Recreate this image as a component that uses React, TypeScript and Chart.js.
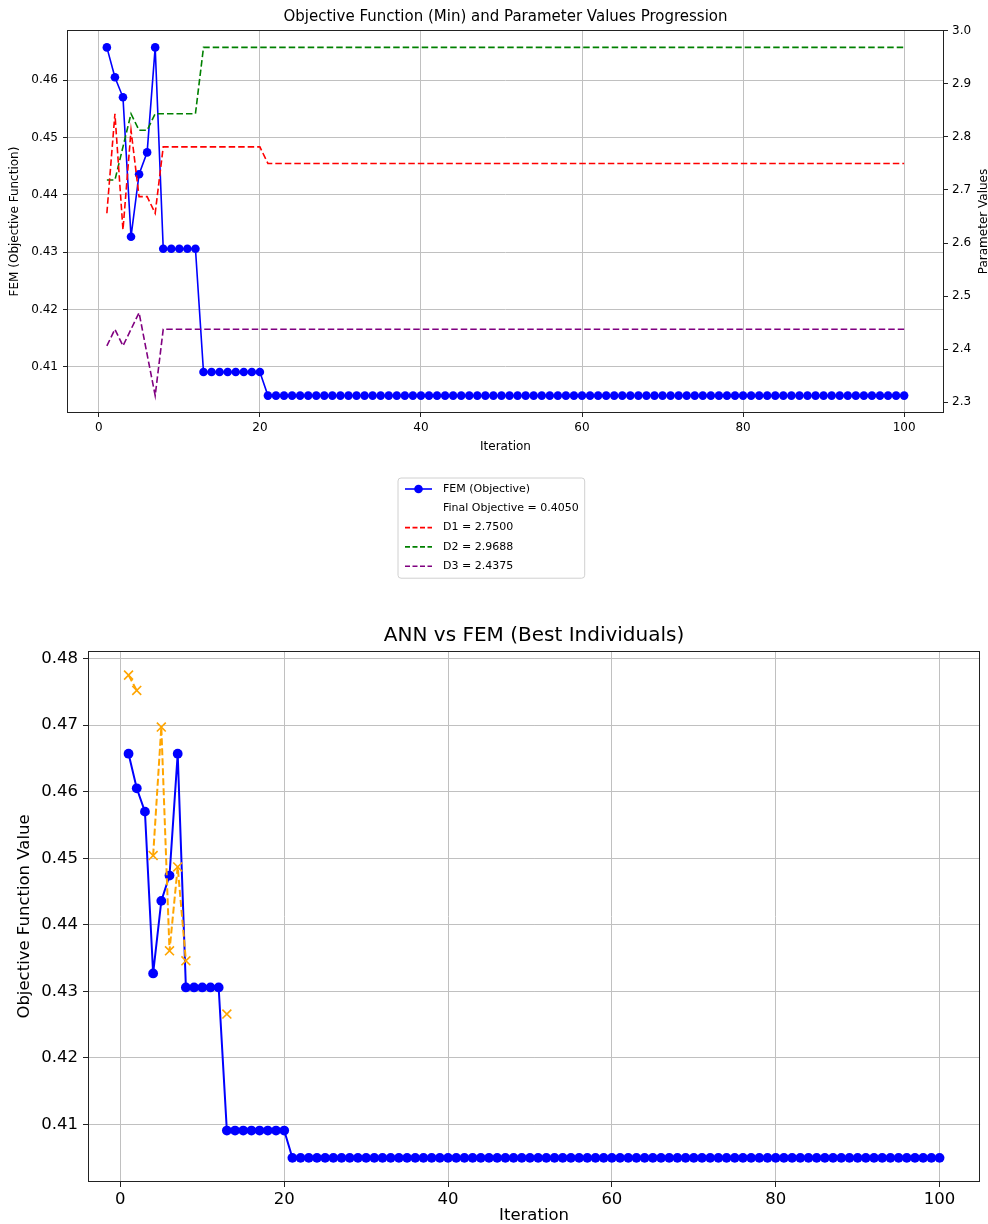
import React, { useEffect, useRef } from "react";
import { Chart, registerables } from "chart.js";

Chart.register(...registerables);

const FONT = "'DejaVu Sans', 'Liberation Sans', sans-serif";

// ---------- data ----------
const iterations = Array.from({ length: 100 }, (_, i) => i + 1);

const femValues = [
  0.4657, 0.4605, 0.457, 0.4327, 0.4436, 0.4474, 0.4657, 0.4306, 0.4306, 0.4306,
  0.4306, 0.4306, 0.4091, 0.4091, 0.4091, 0.4091, 0.4091, 0.4091, 0.4091, 0.4091,
  0.405, 0.405, 0.405, 0.405, 0.405, 0.405, 0.405, 0.405, 0.405, 0.405,
  0.405, 0.405, 0.405, 0.405, 0.405, 0.405, 0.405, 0.405, 0.405, 0.405,
  0.405, 0.405, 0.405, 0.405, 0.405, 0.405, 0.405, 0.405, 0.405, 0.405,
  0.405, 0.405, 0.405, 0.405, 0.405, 0.405, 0.405, 0.405, 0.405, 0.405,
  0.405, 0.405, 0.405, 0.405, 0.405, 0.405, 0.405, 0.405, 0.405, 0.405,
  0.405, 0.405, 0.405, 0.405, 0.405, 0.405, 0.405, 0.405, 0.405, 0.405,
  0.405, 0.405, 0.405, 0.405, 0.405, 0.405, 0.405, 0.405, 0.405, 0.405,
  0.405, 0.405, 0.405, 0.405, 0.405, 0.405, 0.405, 0.405, 0.405, 0.405,
];

const annValues: (number | null)[] = [
  0.4775, 0.4752, null, 0.4504, 0.4697, 0.4361, 0.4487, 0.4346, null, null,
  null, null, 0.4266, null, null, null, null, null, null, null,
  null, null, null, null, null, null, null, null, null, null,
  null, null, null, null, null, null, null, null, null, null,
  null, null, null, null, null, null, null, null, null, null,
  null, null, null, null, null, null, null, null, null, null,
  null, null, null, null, null, null, null, null, null, null,
  null, null, null, null, null, null, null, null, null, null,
  null, null, null, null, null, null, null, null, null, null,
  null, null, null, null, null, null, null, null, null, null,
];

const d1Values = [
  2.65625, 2.84375, 2.625, 2.8125, 2.6875, 2.6875, 2.65625, 2.78125, 2.78125, 2.78125,
  2.78125, 2.78125, 2.78125, 2.78125, 2.78125, 2.78125, 2.78125, 2.78125, 2.78125, 2.78125,
  2.75, 2.75, 2.75, 2.75, 2.75, 2.75, 2.75, 2.75, 2.75, 2.75,
  2.75, 2.75, 2.75, 2.75, 2.75, 2.75, 2.75, 2.75, 2.75, 2.75,
  2.75, 2.75, 2.75, 2.75, 2.75, 2.75, 2.75, 2.75, 2.75, 2.75,
  2.75, 2.75, 2.75, 2.75, 2.75, 2.75, 2.75, 2.75, 2.75, 2.75,
  2.75, 2.75, 2.75, 2.75, 2.75, 2.75, 2.75, 2.75, 2.75, 2.75,
  2.75, 2.75, 2.75, 2.75, 2.75, 2.75, 2.75, 2.75, 2.75, 2.75,
  2.75, 2.75, 2.75, 2.75, 2.75, 2.75, 2.75, 2.75, 2.75, 2.75,
  2.75, 2.75, 2.75, 2.75, 2.75, 2.75, 2.75, 2.75, 2.75, 2.75,
];

const d2Values = [
  2.71875, 2.71875, 2.78125, 2.84375, 2.8125, 2.8125, 2.84375, 2.84375, 2.84375, 2.84375,
  2.84375, 2.84375, 2.96875, 2.96875, 2.96875, 2.96875, 2.96875, 2.96875, 2.96875, 2.96875,
  2.96875, 2.96875, 2.96875, 2.96875, 2.96875, 2.96875, 2.96875, 2.96875, 2.96875, 2.96875,
  2.96875, 2.96875, 2.96875, 2.96875, 2.96875, 2.96875, 2.96875, 2.96875, 2.96875, 2.96875,
  2.96875, 2.96875, 2.96875, 2.96875, 2.96875, 2.96875, 2.96875, 2.96875, 2.96875, 2.96875,
  2.96875, 2.96875, 2.96875, 2.96875, 2.96875, 2.96875, 2.96875, 2.96875, 2.96875, 2.96875,
  2.96875, 2.96875, 2.96875, 2.96875, 2.96875, 2.96875, 2.96875, 2.96875, 2.96875, 2.96875,
  2.96875, 2.96875, 2.96875, 2.96875, 2.96875, 2.96875, 2.96875, 2.96875, 2.96875, 2.96875,
  2.96875, 2.96875, 2.96875, 2.96875, 2.96875, 2.96875, 2.96875, 2.96875, 2.96875, 2.96875,
  2.96875, 2.96875, 2.96875, 2.96875, 2.96875, 2.96875, 2.96875, 2.96875, 2.96875, 2.96875,
];

const d3Values = [
  2.40625, 2.4375, 2.40625, 2.4375, 2.46875, 2.39, 2.3125, 2.4375, 2.4375, 2.4375,
  2.4375, 2.4375, 2.4375, 2.4375, 2.4375, 2.4375, 2.4375, 2.4375, 2.4375, 2.4375,
  2.4375, 2.4375, 2.4375, 2.4375, 2.4375, 2.4375, 2.4375, 2.4375, 2.4375, 2.4375,
  2.4375, 2.4375, 2.4375, 2.4375, 2.4375, 2.4375, 2.4375, 2.4375, 2.4375, 2.4375,
  2.4375, 2.4375, 2.4375, 2.4375, 2.4375, 2.4375, 2.4375, 2.4375, 2.4375, 2.4375,
  2.4375, 2.4375, 2.4375, 2.4375, 2.4375, 2.4375, 2.4375, 2.4375, 2.4375, 2.4375,
  2.4375, 2.4375, 2.4375, 2.4375, 2.4375, 2.4375, 2.4375, 2.4375, 2.4375, 2.4375,
  2.4375, 2.4375, 2.4375, 2.4375, 2.4375, 2.4375, 2.4375, 2.4375, 2.4375, 2.4375,
  2.4375, 2.4375, 2.4375, 2.4375, 2.4375, 2.4375, 2.4375, 2.4375, 2.4375, 2.4375,
  2.4375, 2.4375, 2.4375, 2.4375, 2.4375, 2.4375, 2.4375, 2.4375, 2.4375, 2.4375,
];

const xTickValues = [0, 20, 40, 60, 80, 100];
const topLeftTickValues = [0.41, 0.42, 0.43, 0.44, 0.45, 0.46];
const topRightTickValues = [2.3, 2.4, 2.5, 2.6, 2.7, 2.8, 2.9, 3.0];
const bottomTickValues = [0.41, 0.42, 0.43, 0.44, 0.45, 0.46, 0.47, 0.48];

const topTitle = "Objective Function (Min) and Parameter Values Progression";
const bottomTitle = "ANN vs FEM (Best Individuals)";
const xLabel = "Iteration";
const topYLabel = "FEM (Objective Function)";
const topY2Label = "Parameter Values";
const bottomYLabel = "Objective Function Value";

const FEM_COLOR = "#0000ff";
const ANN_COLOR = "#ffa500";
const D1_COLOR = "#ff0000";
const D2_COLOR = "#008000";
const D3_COLOR = "#800080";

// ---------- helpers ----------
function paddedRange(series: (number | null)[][]) {
  let min = Infinity;
  let max = -Infinity;
  series.forEach((arr) =>
    arr.forEach((v) => {
      if (v != null) {
        if (v < min) min = v;
        if (v > max) max = v;
      }
    })
  );
  const m = (max - min) * 0.05;
  return { min: min - m, max: max + m };
}

const toPoints = (vals: (number | null)[]) =>
  iterations.map((x, i) => ({ x, y: vals[i] }));

function drawText(
  ctx: CanvasRenderingContext2D,
  str: string,
  x: number,
  y: number,
  size: number,
  rotate = 0,
  align: CanvasTextAlign = "center"
) {
  ctx.save();
  ctx.font = `${size}px ${FONT}`;
  ctx.fillStyle = "#000";
  ctx.textAlign = align;
  ctx.textBaseline = "middle";
  ctx.translate(x, y);
  if (rotate) ctx.rotate(rotate);
  ctx.fillText(str, 0, 0);
  ctx.restore();
}

type LegItem = {
  label: string;
  color?: string;
  dash?: number[];
  lineWidth?: number;
  marker?: "circle" | "x" | null;
  markerSize?: number;
  noHandle?: boolean;
};

function drawMarker(ctx: CanvasRenderingContext2D, kind: string, x: number, y: number, r: number, color: string, lw: number) {
  ctx.save();
  ctx.setLineDash([]);
  if (kind === "circle") {
    ctx.fillStyle = color;
    ctx.beginPath();
    ctx.arc(x, y, r, 0, Math.PI * 2);
    ctx.fill();
  } else if (kind === "x") {
    const o = r * Math.SQRT1_2;
    ctx.strokeStyle = color;
    ctx.lineWidth = lw;
    ctx.beginPath();
    ctx.moveTo(x - o, y - o);
    ctx.lineTo(x + o, y + o);
    ctx.moveTo(x - o, y + o);
    ctx.lineTo(x + o, y - o);
    ctx.stroke();
  }
  ctx.restore();
}

function drawLegend(ctx: CanvasRenderingContext2D, leg: any) {
  const { items, fontSize, rowH, firstRow, handleStart, handleLen, textOffset, padRight, padBottom } = leg;
  ctx.save();
  ctx.font = `${fontSize}px ${FONT}`;
  const textW = Math.max(...items.map((it: LegItem) => ctx.measureText(it.label).width));
  const w = textOffset + textW + padRight;
  const h = firstRow + rowH * (items.length - 1) + padBottom;
  const x = leg.right != null ? leg.right - w : leg.left;
  const y = leg.top;
  const r = 3;
  ctx.beginPath();
  ctx.moveTo(x + r, y);
  ctx.lineTo(x + w - r, y);
  ctx.quadraticCurveTo(x + w, y, x + w, y + r);
  ctx.lineTo(x + w, y + h - r);
  ctx.quadraticCurveTo(x + w, y + h, x + w - r, y + h);
  ctx.lineTo(x + r, y + h);
  ctx.quadraticCurveTo(x, y + h, x, y + h - r);
  ctx.lineTo(x, y + r);
  ctx.quadraticCurveTo(x, y, x + r, y);
  ctx.closePath();
  ctx.fillStyle = "rgba(255,255,255,0.85)";
  ctx.fill();
  ctx.strokeStyle = "#d0d0d0";
  ctx.lineWidth = 1;
  ctx.stroke();
  items.forEach((it: LegItem, i: number) => {
    const cy = y + firstRow + i * rowH;
    if (!it.noHandle && it.color) {
      ctx.save();
      ctx.strokeStyle = it.color;
      ctx.lineWidth = it.lineWidth || 1.5;
      ctx.setLineDash(it.dash || []);
      ctx.beginPath();
      ctx.moveTo(x + handleStart, cy);
      ctx.lineTo(x + handleStart + handleLen, cy);
      ctx.stroke();
      ctx.restore();
      if (it.marker) drawMarker(ctx, it.marker, x + handleStart + handleLen / 2, cy, it.markerSize || 4, it.color, it.lineWidth || 1.5);
    }
    drawText(ctx, it.label, x + textOffset, cy, fontSize, 0, "left");
  });
  ctx.restore();
}

const decorPlugin = {
  id: "decor",
  afterDatasetsDraw(chart: any) {
    const { ctx, chartArea: a } = chart;
    ctx.save();
    ctx.strokeStyle = "#222";
    ctx.lineWidth = 1;
    ctx.setLineDash([]);
    ctx.strokeRect(Math.round(a.left) + 0.5, Math.round(a.top) + 0.5, Math.round(a.right - a.left) - 1, Math.round(a.bottom - a.top) - 1);
    ctx.restore();
  },
  afterDraw(chart: any, _args: any, opts: any) {
    const { ctx, chartArea: a } = chart;
    const cx = (a.left + a.right) / 2;
    const cy = (a.top + a.bottom) / 2;
    if (opts.title) drawText(ctx, opts.title.text, cx, opts.title.y, opts.title.size);
    if (opts.xLabel) drawText(ctx, opts.xLabel.text, cx, opts.xLabel.y, opts.xLabel.size);
    if (opts.yLabel) drawText(ctx, opts.yLabel.text, opts.yLabel.x, cy, opts.yLabel.size, -Math.PI / 2);
    if (opts.y2Label) drawText(ctx, opts.y2Label.text, opts.y2Label.x, cy, opts.y2Label.size, -Math.PI / 2);
    if (opts.legend) drawLegend(ctx, opts.legend);
  },
};

const fixedTicks = (vals: number[]) => (scale: any) => {
  scale.ticks = vals.map((v) => ({ value: v }));
};

const GRID = "#c0c0c0";
const TICK = "#222";

// ---------- component ----------
export default function App() {
  const topRef = useRef<HTMLCanvasElement>(null);
  const botRef = useRef<HTMLCanvasElement>(null);

  useEffect(() => {
    const xr = paddedRange([iterations]);
    const yTop = paddedRange([femValues]);
    const y2Top = paddedRange([d1Values, d2Values, d3Values]);
    const yBot = paddedRange([femValues, annValues]);

    const topFont = 12;
    const topLegendFont = 11;
    const botFont = 16.5;

    const dashTop = [6.5, 3];

    const top = new Chart(topRef.current!, {
      type: "line",
      data: {
        datasets: [
          {
            label: "FEM (Objective)",
            data: toPoints(femValues),
            yAxisID: "y",
            borderColor: FEM_COLOR,
            backgroundColor: FEM_COLOR,
            borderWidth: 1.6,
            pointRadius: 4.3,
            pointBorderWidth: 0,
            pointStyle: "circle",
            order: 5,
          },
          {
            label: "D1",
            data: toPoints(d1Values),
            yAxisID: "y2",
            borderColor: D1_COLOR,
            borderWidth: 1.6,
            borderDash: dashTop,
            pointRadius: 0,
            order: 1,
          },
          {
            label: "D2",
            data: toPoints(d2Values),
            yAxisID: "y2",
            borderColor: D2_COLOR,
            borderWidth: 1.6,
            borderDash: dashTop,
            pointRadius: 0,
            order: 2,
          },
          {
            label: "D3",
            data: toPoints(d3Values),
            yAxisID: "y2",
            borderColor: D3_COLOR,
            borderWidth: 1.6,
            borderDash: dashTop,
            pointRadius: 0,
            order: 3,
          },
        ],
      },
      options: {
        animation: false,
        responsive: false,
        devicePixelRatio: 1,
        layout: { padding: { left: 0, right: 0, top: 30, bottom: 140 } },
        plugins: {
          legend: { display: false },
          tooltip: { enabled: false },
          decor: {
            title: { text: topTitle, y: 17, size: 15 },
            xLabel: { text: xLabel, y: 447, size: topFont },
            yLabel: { text: topYLabel, x: 15, size: topFont },
            y2Label: { text: topY2Label, x: 984, size: topFont },
            legend: {
              left: 398,
              top: 478,
              fontSize: topLegendFont,
              rowH: 19.3,
              firstRow: 11,
              padBottom: 12,
              handleStart: 7,
              handleLen: 27,
              textOffset: 45,
              padRight: 6,
              items: [
                { label: "FEM (Objective)", color: FEM_COLOR, lineWidth: 1.6, marker: "circle", markerSize: 4.3 },
                { label: `Final Objective = ${femValues[femValues.length - 1].toFixed(4)}`, noHandle: true },
                { label: `D1 = ${d1Values[d1Values.length - 1].toFixed(4)}`, color: D1_COLOR, dash: [5, 2.5], lineWidth: 1.6 },
                { label: `D2 = ${d2Values[d2Values.length - 1].toFixed(4)}`, color: D2_COLOR, dash: [5, 2.5], lineWidth: 1.6 },
                { label: `D3 = ${d3Values[d3Values.length - 1].toFixed(4)}`, color: D3_COLOR, dash: [5, 2.5], lineWidth: 1.6 },
              ],
            },
          },
        } as any,
        scales: {
          x: {
            type: "linear",
            min: xr.min,
            max: xr.max,
            afterBuildTicks: fixedTicks(xTickValues),
            afterFit: (s: any) => {
              s.height = 47;
            },
            grid: { color: GRID, lineWidth: 1, tickColor: TICK, tickLength: 4, tickWidth: 1 },
            border: { display: false },
            ticks: {
              autoSkip: false,
              maxRotation: 0,
              padding: 4,
              color: "#000",
              font: { family: FONT, size: topFont },
              callback: (v: any) => String(v),
            },
          },
          y: {
            type: "linear",
            position: "left",
            min: yTop.min,
            max: yTop.max,
            afterBuildTicks: fixedTicks(topLeftTickValues),
            afterFit: (s: any) => {
              s.width = 67;
            },
            grid: { color: GRID, lineWidth: 1, tickColor: TICK, tickLength: 4, tickWidth: 1 },
            border: { display: false },
            ticks: {
              autoSkip: false,
              padding: 5,
              color: "#000",
              font: { family: FONT, size: topFont },
              callback: (v: any) => Number(v).toFixed(2),
            },
          },
          y2: {
            type: "linear",
            position: "right",
            min: y2Top.min,
            max: y2Top.max,
            afterBuildTicks: fixedTicks(topRightTickValues),
            afterFit: (s: any) => {
              s.width = 44;
            },
            grid: { drawOnChartArea: false, tickColor: TICK, tickLength: 4, tickWidth: 1 },
            border: { display: false },
            ticks: {
              autoSkip: false,
              padding: 4,
              color: "#000",
              font: { family: FONT, size: topFont },
              callback: (v: any) => Number(v).toFixed(1),
            },
          },
        },
      } as any,
      plugins: [decorPlugin],
    });

    const bot = new Chart(botRef.current!, {
      type: "line",
      data: {
        datasets: [
          {
            label: "FEM",
            data: toPoints(femValues),
            borderColor: FEM_COLOR,
            backgroundColor: FEM_COLOR,
            borderWidth: 2,
            pointRadius: 4.9,
            pointBorderWidth: 0,
            pointStyle: "circle",
            order: 2,
          },
          {
            label: "ANN",
            data: toPoints(annValues),
            borderColor: ANN_COLOR,
            backgroundColor: ANN_COLOR,
            borderWidth: 2,
            borderDash: [7, 3],
            pointStyle: "crossRot",
            pointRadius: 6.3,
            pointBorderWidth: 1.6,
            spanGaps: false,
            order: 1,
          },
        ],
      },
      options: {
        animation: false,
        responsive: false,
        devicePixelRatio: 1,
        layout: { padding: { left: 0, right: 4, top: 51, bottom: 0 } },
        plugins: {
          legend: { display: false },
          tooltip: { enabled: false },
          decor: {
            title: { text: bottomTitle, y: 36, size: 20 },
            xLabel: { text: xLabel, y: 616, size: botFont },
            yLabel: { text: bottomYLabel, x: 25, size: botFont },
            legend: {
              right: 976,
              top: 659,
              fontSize: 16,
              rowH: 22.5,
              firstRow: 14,
              padBottom: 13,
              handleStart: 6,
              handleLen: 33,
              textOffset: 50,
              padRight: 6,
              items: [
                { label: "FEM", color: FEM_COLOR, lineWidth: 2, marker: "circle", markerSize: 4.9 },
                { label: "ANN", color: ANN_COLOR, lineWidth: 2, dash: [7, 3], marker: "x", markerSize: 6.3 },
              ],
            },
          },
        } as any,
        scales: {
          x: {
            type: "linear",
            min: xr.min,
            max: xr.max,
            afterBuildTicks: fixedTicks(xTickValues),
            afterFit: (s: any) => {
              s.height = 42;
            },
            grid: { color: GRID, lineWidth: 1, tickColor: TICK, tickLength: 5, tickWidth: 1 },
            border: { display: false },
            ticks: {
              autoSkip: false,
              maxRotation: 0,
              padding: 3,
              color: "#000",
              font: { family: FONT, size: botFont },
              callback: (v: any) => String(v),
            },
          },
          y: {
            type: "linear",
            position: "left",
            min: yBot.min,
            max: yBot.max,
            afterBuildTicks: fixedTicks(bottomTickValues),
            afterFit: (s: any) => {
              s.width = 88;
            },
            grid: { color: GRID, lineWidth: 1, tickColor: TICK, tickLength: 5, tickWidth: 1 },
            border: { display: false },
            ticks: {
              autoSkip: false,
              padding: 5,
              color: "#000",
              font: { family: FONT, size: botFont },
              callback: (v: any) => Number(v).toFixed(2),
            },
          },
        },
      } as any,
      plugins: [decorPlugin],
    });

    return () => {
      top.destroy();
      bot.destroy();
    };
  }, []);

  return (
    <div style={{ position: "absolute", left: 0, top: 0, width: 988, height: 1224, background: "#fff" }}>
      <canvas
        ref={topRef}
        width={988}
        height={600}
        style={{ position: "absolute", left: 0, top: 0, width: 988, height: 600 }}
      />
      <canvas
        ref={botRef}
        width={988}
        height={624}
        style={{ position: "absolute", left: 0, top: 600, width: 988, height: 624 }}
      />
    </div>
  );
}
